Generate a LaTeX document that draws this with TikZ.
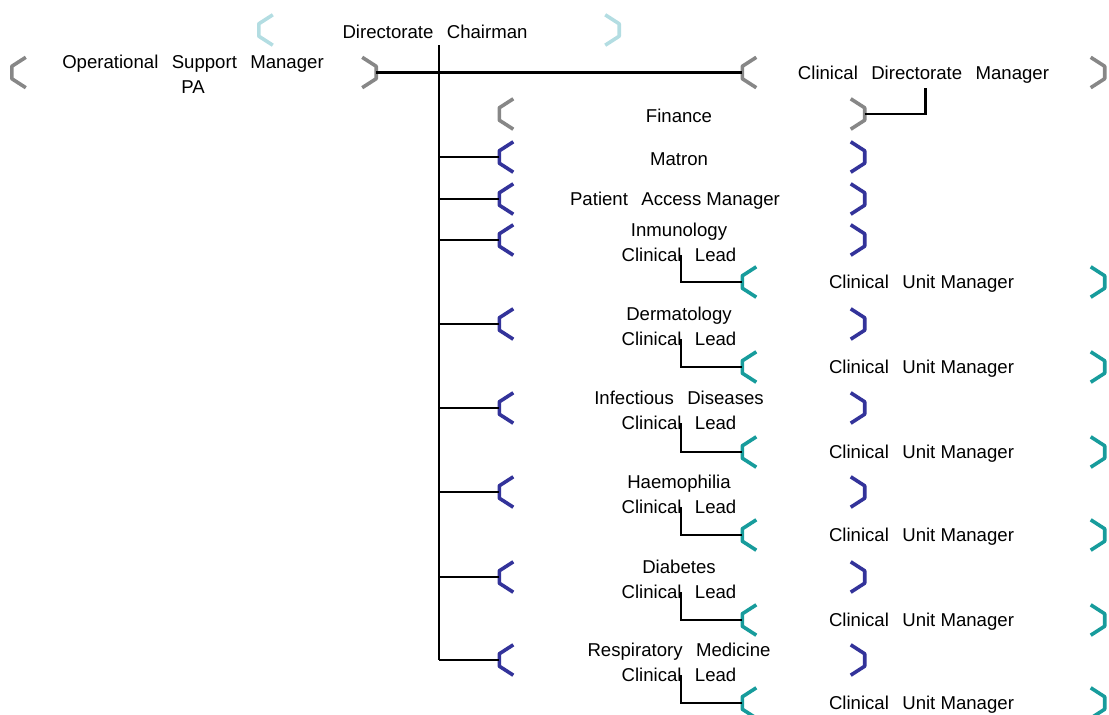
\documentclass[tikz,border=0pt]{standalone}
\usepackage{fontspec}
\setmainfont{Liberation Sans}
\definecolor{brgrey}{HTML}{878787}
\definecolor{brpale}{HTML}{B3DDE2}
\definecolor{brblue}{HTML}{33339A}
\definecolor{brteal}{HTML}{179C9C}
% wide gap between words
\newcommand\wsp{\hspace{0.72em}}
% bracket pair drawn on the left and right edges of a unit node
\newcommand\brk[2]{%
  \draw[#2, line width=3.6pt, line join=round]
    ([xshift=14pt]#1.north west) -- ([yshift=-9pt]#1.north west)
    -- ([yshift=9pt]#1.south west) -- ([xshift=14pt]#1.south west);
  \draw[#2, line width=3.6pt, line join=round]
    ([xshift=-14pt]#1.north east) -- ([yshift=-9pt]#1.north east)
    -- ([yshift=9pt]#1.south east) -- ([xshift=-14pt]#1.south east);
}
\begin{document}
\begin{tikzpicture}[x=1pt,y=-1pt,
  unit/.style={draw=none, inner sep=0pt, minimum height=30pt},
  wideunit/.style={unit, minimum width=365pt},
  every label/.style={font=\fontsize{18.6}{25}\selectfont, align=center, inner sep=0pt, yshift=-2pt},
  left/.style={xshift=-3pt},
  link/.style={line width=2.2pt, black},
  trunk/.style={line width=2.8pt, black},
]
\useasboundingbox (0,0) rectangle (1109,715);

% top level
\node[unit, minimum width=360pt, label={[xshift=-4pt]center:{Directorate\wsp Chairman}}] (chair) at (439,30) {};
\node[unit, minimum width=364pt, label={[xshift=-1pt]center:{Operational\wsp Support\wsp Manager\\PA}}] (osm) at (194,72.5) {};
\node[unit, minimum width=362pt, label={center:{Clinical\wsp Directorate\wsp Manager}}] (cdm) at (923.5,72.5) {};
\node[wideunit, label={[left]center:{Finance}}] (fin) at (682,114) {};

% units reporting to the chairman
\node[wideunit, label={[left]center:{Matron}}] (mat) at (682,157) {};
\node[wideunit, label={[xshift=-7pt]center:{Patient\wsp Access Manager}}] (pam) at (682,199) {};
\node[wideunit, label={[left]center:{Inmunology\\Clinical\wsp Lead}}] (imm) at (682,240) {};
\node[wideunit, label={[left]center:{Dermatology\\Clinical\wsp Lead}}] (derm) at (682,324) {};
\node[wideunit, label={[left]center:{Infectious\wsp Diseases\\Clinical\wsp Lead}}] (inf) at (682,408) {};
\node[wideunit, label={[left]center:{Haemophilia\\Clinical\wsp Lead}}] (haem) at (682,492) {};
\node[wideunit, label={[left]center:{Diabetes\\Clinical\wsp Lead}}] (diab) at (682,577) {};
\node[wideunit, label={[left]center:{Respiratory\wsp Medicine\\Clinical\wsp Lead}}] (resp) at (682,660) {};

% clinical unit managers
\foreach \n/\y in {cumA/282, cumB/367, cumC/452, cumD/535, cumE/620, cumF/703}
  \node[wideunit, minimum width=362pt, label={[xshift=-2pt]center:{Clinical\wsp Unit Manager}}] (\n) at (923.5,\y) {};

% brackets
\brk{chair}{brpale}
\brk{osm}{brgrey}
\brk{cdm}{brgrey}
\brk{fin}{brgrey}
\foreach \n in {mat,pam,imm,derm,inf,haem,diab,resp} {\brk{\n}{brblue}}
\foreach \n in {cumA,cumB,cumC,cumD,cumE,cumF} {\brk{\n}{brteal}}

% connectors
\draw[link] (osm.east) -- (cdm.west);
\draw[link] (fin.east) -| ([xshift=2pt]cdm.south);
\draw[trunk] (chair.south) -- (chair.south |- resp.west);
\foreach \n in {mat,pam,imm,derm,inf,haem,diab,resp}
  \draw[link] (chair.south |- \n.west) -- (\n.west);
\foreach \a/\b in {imm/cumA, derm/cumB, inf/cumC, haem/cumD, diab/cumE, resp/cumF}
  \draw[link] ([xshift=-1pt]\a.south) |- (\b.west);
\end{tikzpicture}
\end{document}
